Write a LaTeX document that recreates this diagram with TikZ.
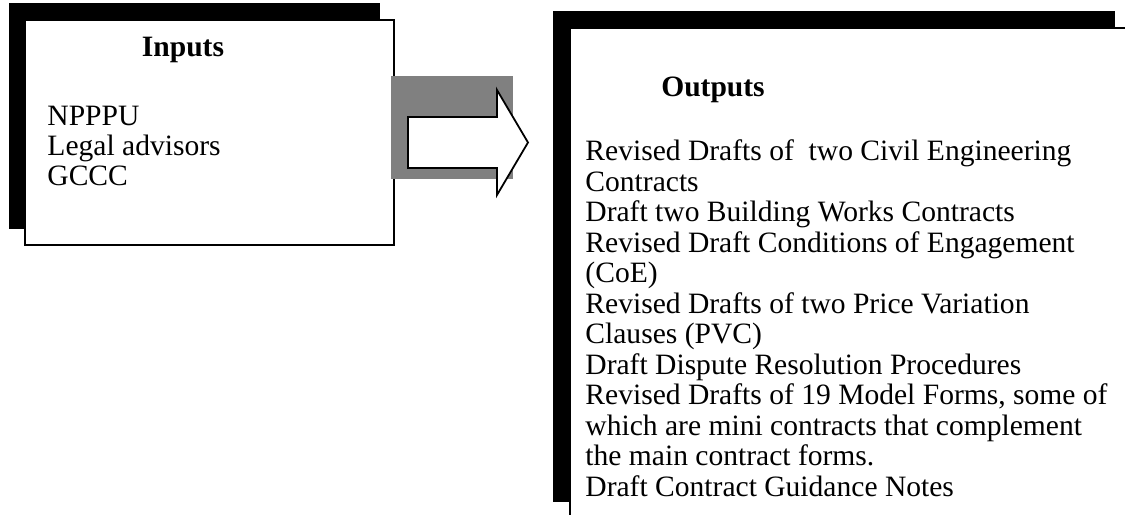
\documentclass[tikz,border=0pt]{standalone}
\usepackage{fontspec}
\setmainfont{Liberation Serif}
\begin{document}
\begin{tikzpicture}[x=0.45pt,y=-0.45pt,
  shadowbox/.style={fill=black,draw=none},
  mainbox/.style={fill=white,draw=black,line width=0.8pt},
  txt/.style={font=\fontsize{13.3}{15}\selectfont,inner sep=0pt,anchor=base west},
  ttl/.style={font=\fontsize{13.3}{15}\selectfont\bfseries,inner sep=0pt,anchor=base}]
\useasboundingbox (0,0) rectangle (1125,515);
\clip (0,0) rectangle (1125,515);
% Inputs box
\fill[shadowbox] (9,3) rectangle (380,229);
\draw[mainbox] (25,20) rectangle (394,245);
\node[ttl] (inT) at (183,57) {Inputs};
\foreach \t [count=\i] in {NPPPU, Legal advisors, GCCC}
  \node[txt] (in\i) at (47,{126+30*(\i-1)}) {\t};
% Arrow
\fill[fill={rgb,255:red,128;green,128;blue,128}] (391,76) rectangle (513,179);
\draw[fill=white,line width=0.8pt,line join=miter] (408,117) -- (497,117) -- (497,90) -- (528,142.5) -- (497,195) -- (497,168) -- (408,168) -- cycle;
% Outputs box
\fill[shadowbox] (553,11) rectangle (1115,502);
\draw[mainbox] (570,28) rectangle (1140,540);
\node[ttl] (outT) at (713,97) {Outputs};
\foreach \t [count=\i] in {Revised Drafts of~ two Civil Engineering, Contracts, Draft two Building Works Contracts, Revised Draft Conditions of Engagement, (CoE), Revised Drafts of two Price Variation, Clauses (PVC), Draft Dispute Resolution Procedures, {Revised Drafts of 19 Model Forms, some of}, which are mini contracts that complement, the main contract forms., Draft Contract Guidance Notes}
  \node[txt] (out\i) at (585,{161+30.5*(\i-1)}) {\t};
\end{tikzpicture}
\end{document}
